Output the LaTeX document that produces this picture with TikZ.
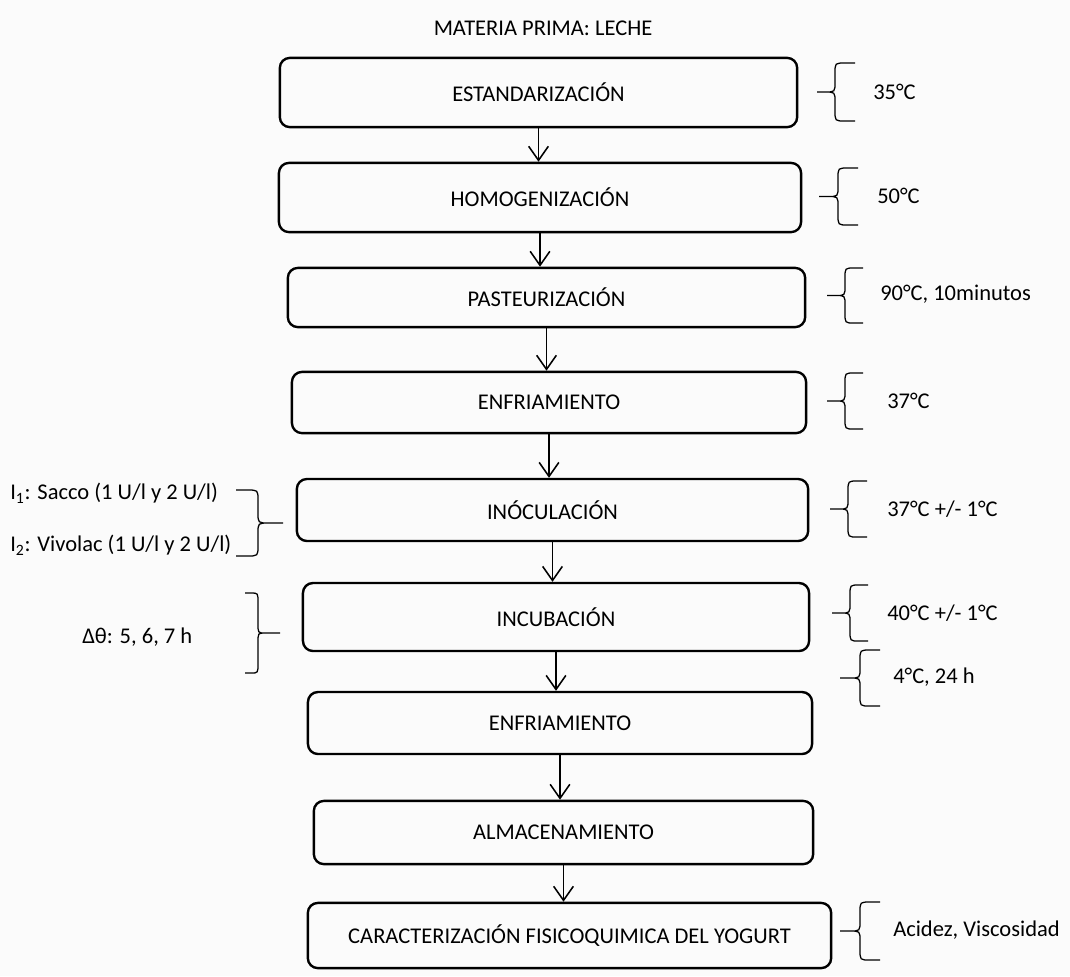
\documentclass[tikz,border=0pt]{standalone}
\usepackage{fontspec}
\setmainfont{Carlito}
\usetikzlibrary{arrows.meta, positioning}

% curly brace: tip x, spine x, end x, top y, bottom y
\newcommand{\curly}[5]{%
  \pgfmathsetmacro{\brr}{(#3-#2)/2}%
  \pgfmathsetmacro{\bmm}{(#4+#5)/2}%
  \draw[brc] (#3,#4) -- ({#2+\brr},#4) .. controls (#2,#4) .. (#2,{#4+10})
    -- (#2,{\bmm-10}) .. controls (#2,\bmm) .. ({#2-\brr},\bmm)
    .. controls (#2,\bmm) .. (#2,{\bmm+10})
    -- (#2,{#5-10}) .. controls (#2,#5) .. ({#2+\brr},#5) -- (#3,#5)
    ({#2-\brr},\bmm) -- (#1,\bmm);
}

\begin{document}
\begin{tikzpicture}[x=0.025cm, y=-0.025cm,
  stepbox/.style={draw, rounded corners=0.25cm, line width=1.7pt, inner sep=0pt,
                  font=\fontsize{16}{19}\selectfont},
  arr/.style={-{Straight Barb[length=10pt,width=14pt]}, line width=1.1pt},
  brc/.style={line width=0.9pt},
  lbl/.style={anchor=west, inner sep=0pt, font=\fontsize{16}{19}\selectfont},
]
\useasboundingbox[fill=gray!3] (0,0) rectangle (1070,976);

% Title
\node[lbl, anchor=center] (leche) at (543,28) {MATERIA PRIMA: LECHE};

% Steps
\node[stepbox, minimum width=12.93cm, minimum height=1.73cm] (estand) at (538.5,92.5) {ESTANDARIZACIÓN};
\node[stepbox, minimum width=13.05cm, minimum height=1.73cm] (homog)  at (540,197.5)  {HOMOGENIZACIÓN};
\node[stepbox, minimum width=12.93cm, minimum height=1.48cm] (paste)  at (546.5,297.5) {PASTEURIZACIÓN};
\node[stepbox, minimum width=12.85cm, minimum height=1.53cm] (enfri)  at (549,402.5)  {ENFRIAMIENTO};
\node[stepbox, minimum width=12.78cm, minimum height=1.55cm] (inocu)  at (552.5,510)  {INÓCULACIÓN};
\node[stepbox, minimum width=12.65cm, minimum height=1.70cm] (incub)  at (556,617)    {INCUBACIÓN};
\node[stepbox, minimum width=12.60cm, minimum height=1.55cm] (enfrii) at (560,723)    {ENFRIAMIENTO};
\node[stepbox, minimum width=12.48cm, minimum height=1.58cm] (almac)  at (563.5,832.5) {ALMACENAMIENTO};
\node[stepbox, minimum width=13.08cm, minimum height=1.63cm] (caract) at (569.5,935.5) {CARACTERIZACIÓN FISICOQUIMICA DEL YOGURT};

% Arrows
\draw[arr] (estand.south) -- (estand.south |- homog.north);
\draw[arr] (homog.south)  -- (homog.south |- paste.north);
\draw[arr] (paste.south)  -- (paste.south |- enfri.north);
\draw[arr] (enfri.south)  -- (enfri.south |- inocu.north);
\draw[arr] (inocu.south)  -- (inocu.south |- incub.north);
\draw[arr] (incub.south)  -- (incub.south |- enfrii.north);
\draw[arr] (enfrii.south) -- (enfrii.south |- almac.north);
\draw[arr] (almac.south)  -- (almac.south |- caract.north);

% Conditions (right)
\node[lbl] (c35)  at (873,92)  {35°C};
\node[lbl] (c50)  at (877,196) {50°C};
\node[lbl] (c90)  at (880,294) {90°C, 10minutos};
\node[lbl] (c37)  at (887,401) {37°C};
\node[lbl] (c37b) at (887,509) {37°C +/- 1°C};
\node[lbl] (c40)  at (887,613) {40°C +/- 1°C};
\node[lbl] (c4)   at (893,677) {4°C, 24 h};
\node[lbl] (cac)  at (893,930) {Acidez, Viscosidad};

\curly{817}{835}{855}{63}{121}
\curly{819}{838}{858}{168}{225}
\curly{827}{845}{863}{268}{323}
\curly{827}{845}{863}{373}{429}
\curly{830}{848}{867}{481}{537}
\curly{832}{850}{868}{585}{641}
\curly{840}{860}{880}{650}{706}
\curly{840}{860}{880}{902}{960}

% Inputs (left)
\node[lbl] (sacco)   at (10,493) {I\textsubscript{1}: Sacco (1 U/l y 2 U/l)};
\node[lbl] (vivolac) at (10,545) {I\textsubscript{2}: Vivolac (1 U/l y 2 U/l)};
\node[lbl] (tiempo)  at (82,637) {Δθ: 5, 6, 7 h};

\curly{283}{258}{236}{490}{556}
\curly{280}{258}{245}{593}{673}
\end{tikzpicture}
\end{document}
